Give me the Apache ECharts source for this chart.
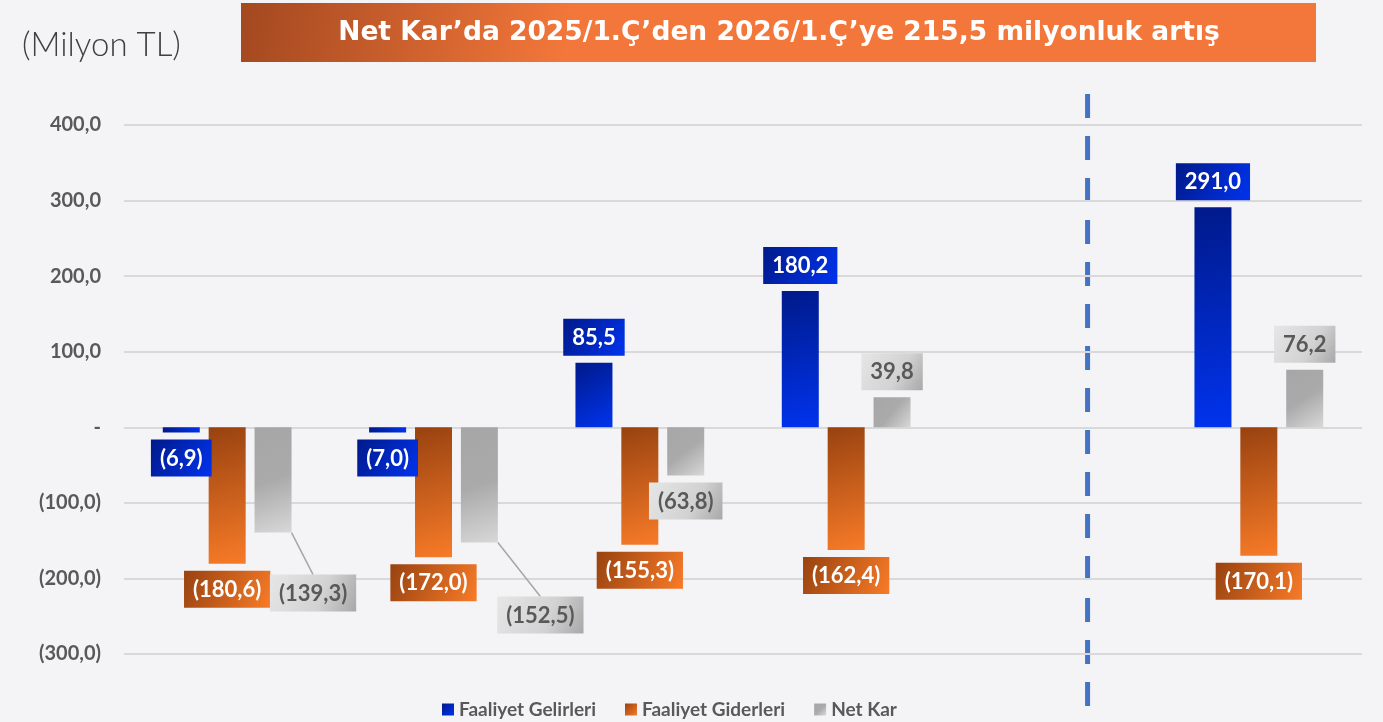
<!DOCTYPE html>
<html>
<head>
<meta charset="utf-8">
<script src="https://cdn.jsdelivr.net/npm/echarts@6/dist/echarts.min.js"></script>
<style>
  html, body { margin: 0; padding: 0; background: #f4f4f6; }
  #chart { width: 1383px; height: 722px; }
</style>
</head>
<body>
<div id="chart"></div>
<script>
var categories = ['2022', '2023', '2024', '2025', '', '2026/1.Ç'];
var gelirler = [-6.9, -7.0, 85.5, 180.2, null, 291.0];
var giderler = [-180.6, -172.0, -155.3, -162.4, null, -170.1];
var netKar = [-139.3, -152.5, -63.8, 39.8, null, 76.2];
var seriesNames = ['Faaliyet Gelirleri', 'Faaliyet Giderleri', 'Net Kar'];
var titleText = 'Net Kar’da 2025/1.Ç’den 2026/1.Ç’ye 215,5 milyonluk artış';
var unitText = '(Milyon TL)';

var chart = echarts.init(document.getElementById('chart'));

function grad(c1, c2) {
  return new echarts.graphic.LinearGradient(0, 0, 1, 1, [
    { offset: 0, color: c1 },
    { offset: 1, color: c2 }
  ]);
}

function fmt(v) {
  var s = Math.abs(v).toFixed(1).replace('.', ',');
  return v < 0 ? '(' + s + ')' : s;
}

var labelFont = 'Lato';

function barLabel(bg, textColor) {
  return {
    show: true,
    position: 'outside',
    distance: 7,
    formatter: function (p) { return fmt(p.value); },
    color: textColor,
    fontFamily: labelFont,
    fontWeight: 'bold',
    fontSize: 22,
    backgroundColor: bg,
    padding: [8, 9, 7, 9]
  };
}

// only the two moved Net Kar labels get a guide line
var netKarData = netKar.map(function (v, i) {
  if (i < 2) return { value: v, labelLine: { show: true } };
  return v;
});

var option = {
  backgroundColor: '#f4f4f6',
  animation: false,
  grid: { left: 124, right: 21, top: 125, bottom: 68 },
  legend: {
    left: 437,
    top: 695,
    icon: 'rect',
    itemWidth: 12,
    itemHeight: 12,
    itemGap: 29,
    textStyle: { fontFamily: labelFont, fontWeight: 'bold', fontSize: 19, color: '#595959' },
    data: seriesNames
  },
  xAxis: {
    type: 'category',
    data: categories,
    axisLine: { show: false },
    axisTick: { show: false },
    axisLabel: { show: false }
  },
  yAxis: {
    type: 'value',
    min: -300,
    max: 400,
    interval: 100,
    axisLine: { show: false },
    axisTick: { show: false },
    splitLine: { lineStyle: { color: '#d9d9d9', width: 2 } },
    axisLabel: {
      margin: 23,
      fontFamily: labelFont,
      fontWeight: 'bold',
      fontSize: 20,
      color: '#595959',
      formatter: function (v) { return v === 0 ? '-' : fmt(v); }
    }
  },
  series: [
    {
      name: seriesNames[0],
      type: 'bar',
      data: gelirler,
      barWidth: 37,
      barGap: '24%',
      itemStyle: { color: grad('#001a8a', '#0033ee') },
      label: barLabel(grad('#001a8a', '#0033ee'), '#ffffff')
    },
    {
      name: seriesNames[1],
      type: 'bar',
      data: giderler,
      barWidth: 37,
      barGap: '24%',
      itemStyle: { color: grad('#984210', '#f87b28') },
      label: barLabel(grad('#984210', '#f87b28'), '#ffffff')
    },
    {
      name: seriesNames[2],
      type: 'bar',
      data: netKarData,
      barWidth: 37,
      barGap: '24%',
      itemStyle: { color: new echarts.graphic.LinearGradient(0, 0, 1, 1, [
        { offset: 0, color: '#a6a6a6' },
        { offset: 0.5, color: '#aaaaaa' },
        { offset: 1, color: '#d8d8d8' }
      ]) },
      label: barLabel(new echarts.graphic.LinearGradient(0, 0, 1, 1, [
        { offset: 0, color: '#e6e6e6' },
        { offset: 0.6, color: '#d2d2d2' },
        { offset: 1, color: '#a8a8a8' }
      ]), '#595959'),
      labelLine: { show: false, lineStyle: { color: '#a6a6a6', width: 1.5 } },
      labelLayout: function (p) {
        if (p.dataIndex === 0) return { dx: 40, dy: 35 };
        if (p.dataIndex === 1) return { dx: 61, dy: 47 };
        return {};
      }
    }
  ],
  graphic: [
    {
      id: 'banner',
      type: 'rect',
      left: 241,
      top: 3,
      shape: { width: 1075, height: 59 },
      style: { fill: new echarts.graphic.LinearGradient(0, 0, 0.3, 1, [
        { offset: 0, color: '#a34820' },
        { offset: 1, color: '#f3773a' }
      ]) },
      silent: true
    },
    {
      id: 'bannerText',
      type: 'text',
      x: 779,
      y: 33,
      style: {
        text: titleText,
        fill: '#ffffff',
        font: 'bold 26.5px "DejaVu Sans"',
        align: 'center',
        verticalAlign: 'middle'
      },
      silent: true
    },
    {
      id: 'unit',
      type: 'text',
      x: 22,
      y: 45,
      style: {
        text: unitText,
        fill: '#404040',
        font: '300 33px Lato',
        verticalAlign: 'middle'
      },
      silent: true
    }
  ]
};

chart.setOption(option);

// dashed separator between historical years and 2026/1.Ç
var x4 = chart.convertToPixel({ xAxisIndex: 0 }, 4);
var x5 = chart.convertToPixel({ xAxisIndex: 0 }, 5);
var sepX = x4 + (x5 - x4) * 0.17;
chart.setOption({
  graphic: [
    {
      id: 'separator',
      type: 'line',
      shape: { x1: sepX, y1: 94, x2: sepX, y2: 716 },
      style: { stroke: '#4472c4', lineWidth: 5, lineDash: [24, 18] },
      silent: true
    }
  ]
});
</script>
</body>
</html>
